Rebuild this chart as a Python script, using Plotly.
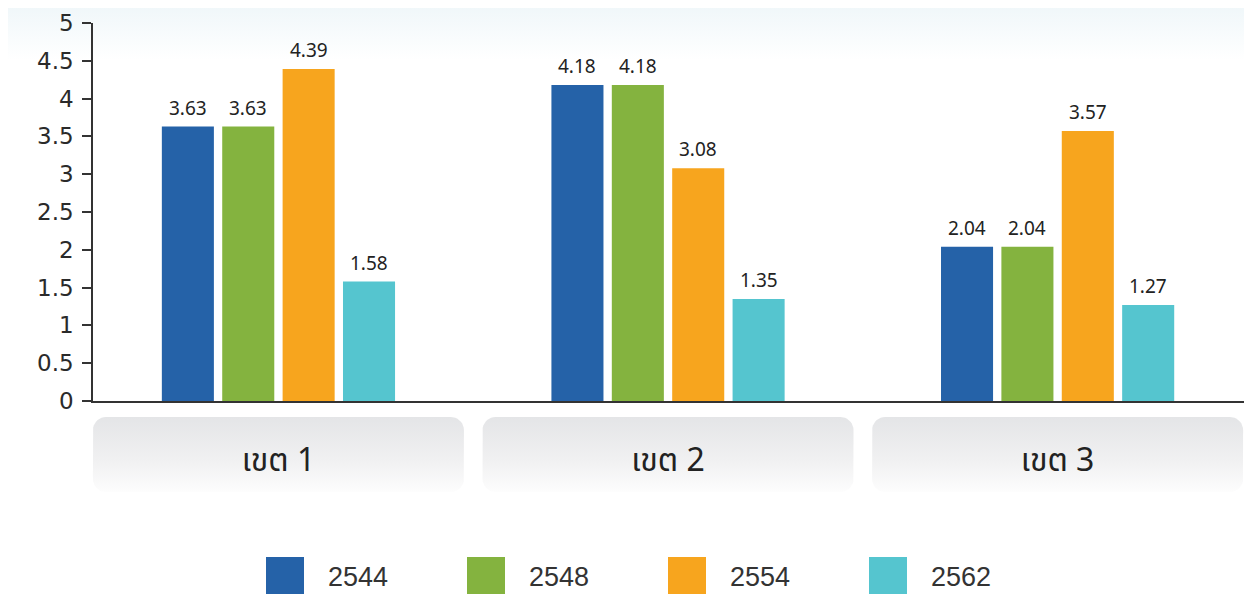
import numpy as np
import plotly.graph_objects as go

categories = ["เขต 1", "เขต 2", "เขต 3"]
series_names = ["2544", "2548", "2554", "2562"]
values_2544 = [3.63, 4.18, 2.04]
values_2548 = [3.63, 4.18, 2.04]
values_2554 = [4.39, 3.08, 3.57]
values_2562 = [1.58, 1.35, 1.27]
series_values = [values_2544, values_2548, values_2554, values_2562]
colors = ["#2562A8", "#84B33F", "#F7A51E", "#55C5CF"]
y_ticks = [0, 0.5, 1, 1.5, 2, 2.5, 3, 3.5, 4, 4.5, 5]

W, H = 1252, 594
OFF = 8  # page body margin compensation
px_left, px_right, px_top, px_bottom = 93, 1245, 23, 401
x_range = [-0.476, 2.481]
BARGAP, BARGROUPGAP = 0.38, 0.138

fig = go.Figure()

# --- decoration layer (screen pixel coordinates on axes x/y) ---
fig.add_trace(go.Scatter(
    x=[0, W + OFF, W + OFF, 0, 0], y=[0, 0, 60, 60, 0], mode="lines", fill="toself",
    line=dict(width=0), hoverinfo="skip", showlegend=False,
    fillgradient=dict(type="vertical", start=0, stop=60,
                      colorscale=[[0, "#eef6f9"], [1, "#ffffff"]]),
    xaxis="x", yaxis="y"))


def rounded_rect(x0, x1, y0, y1, r):
    pts = []
    for cx, cy, a0 in [(x1 - r, y0 + r, -90), (x1 - r, y1 - r, 0),
                       (x0 + r, y1 - r, 90), (x0 + r, y0 + r, 180)]:
        for a in np.linspace(a0, a0 + 90, 10):
            t = np.deg2rad(a)
            pts.append((cx + r * np.cos(t), cy + r * np.sin(t)))
    pts.append(pts[0])
    xs, ys = zip(*pts)
    return list(xs), list(ys)


k = (px_right - px_left) / (x_range[1] - x_range[0])
for i, _ in enumerate(categories):
    cx = px_left + (i - x_range[0]) * k
    xs, ys = rounded_rect(cx - 185.5, cx + 185.5, 417, 492, 13)
    fig.add_trace(go.Scatter(
        x=xs, y=ys, mode="lines", fill="toself", line=dict(width=0),
        hoverinfo="skip", showlegend=False,
        fillgradient=dict(type="vertical", start=417, stop=492,
                          colorscale=[[0, "#e4e5e7"], [0.6, "#f1f1f2"], [1, "#fdfdfd"]]),
        xaxis="x", yaxis="y"))

# --- data bars ---
n_series = len(series_names)
slot = (1 - BARGAP) / n_series
for j, (name, vals, col) in enumerate(zip(series_names, series_values, colors)):
    xcat = list(range(len(categories)))
    fig.add_trace(go.Bar(
        x=xcat, y=vals, name=name, marker_color=col,
        marker_line_width=0, showlegend=False,
        xaxis="x2", yaxis="y2"))
    for xi, v in zip(xcat, vals):
        fig.add_annotation(
            xref="x2", yref="y2", x=xi + (j - (n_series - 1) / 2) * slot, y=v,
            text=f"{v:.2f}", showarrow=False, xanchor="center", yanchor="middle",
            yshift=19, font=dict(family="Noto Sans", size=19, color="#222222"))

# --- custom legend ---
legend_x0 = 266
legend_step = 201
for i, (name, col) in enumerate(zip(series_names, colors)):
    lx = legend_x0 + i * legend_step
    fig.add_shape(type="rect", xref="x", yref="y", x0=lx, x1=lx + 38,
                  y0=557, y1=600, fillcolor=col, line_width=0)
    fig.add_annotation(xref="x", yref="y", x=lx + 60, y=577, text=name,
                       showarrow=False, xanchor="left", yanchor="middle",
                       font=dict(family="Liberation Sans", size=27, color="#333333"))

fig.update_layout(
    width=W, height=H,
    margin=dict(l=0, r=0, t=0, b=0, autoexpand=False),
    paper_bgcolor="white", plot_bgcolor="rgba(0,0,0,0)",
    barmode="group", bargap=BARGAP, bargroupgap=BARGROUPGAP,
    showlegend=False,
    xaxis=dict(domain=[0, 1], range=[OFF, W + OFF], visible=False,
               fixedrange=True, automargin=False),
    yaxis=dict(domain=[0, 1], range=[H + OFF, OFF], visible=False,
               fixedrange=True, automargin=False),
    xaxis2=dict(
        domain=[(px_left - OFF) / W, (px_right - OFF) / W], anchor="y2", range=x_range,
        tickmode="array", tickvals=list(range(len(categories))), ticktext=categories,
        ticks="", showgrid=False, zeroline=False, automargin=False,
        showline=True, linecolor="#333333", linewidth=1.5,
        ticklabelstandoff=30,
        tickfont=dict(family="Noto Sans Thai, Tahoma, DejaVu Sans, sans-serif", size=32, color="#222222")),
    yaxis2=dict(
        domain=[(H - (px_bottom - OFF)) / H, (H - (px_top - OFF)) / H], anchor="x2", range=[0, 5],
        tickmode="array", tickvals=y_ticks, ticktext=[f"{t:g}" for t in y_ticks],
        ticks="outside", ticklen=9, tickwidth=1.5, tickcolor="#333333",
        showgrid=False, zeroline=False, automargin=False,
        showline=True, linecolor="#333333", linewidth=1.5,
        ticklabelstandoff=4,
        tickfont=dict(family="DejaVu Sans", size=23, color="#2a2a2a")),
)

fig.write_html("out.html")
